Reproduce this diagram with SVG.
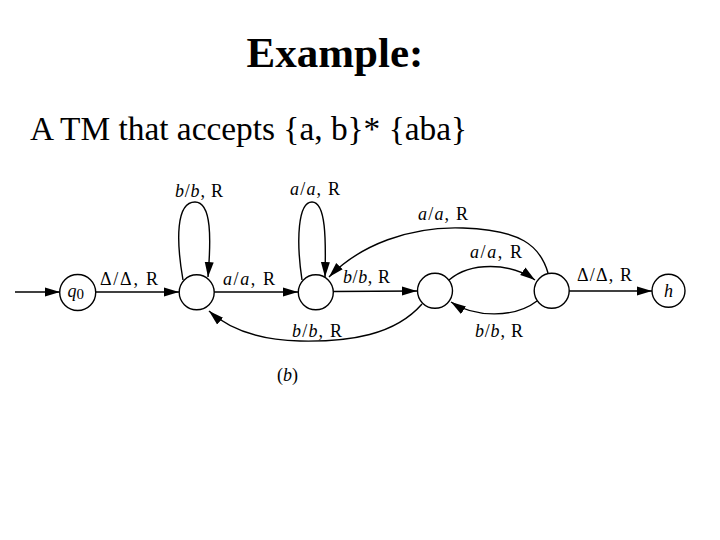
<svg xmlns="http://www.w3.org/2000/svg" width="720" height="540" viewBox="0 0 720 540">
<style>
.st{fill:#fff;stroke:#000;stroke-width:1.4}
.ed{fill:none;stroke:#000;stroke-width:1.4}
.lb{font-family:"Liberation Serif","Times New Roman",serif;font-size:18px;fill:#000}
.i{font-style:italic}
</style>
<defs>
<marker id="ah" markerUnits="userSpaceOnUse" markerWidth="16" markerHeight="10" refX="15" refY="5" orient="auto">
<path d="M0,0.5 L15,5 L0,9.5 Z" fill="#000"/>
</marker>
</defs>
<rect width="720" height="540" fill="#fff"/>
<text x="335" y="67" text-anchor="middle" font-family="Liberation Serif, serif" font-weight="bold" font-size="43">Example:</text>
<text x="30" y="140" font-family="Liberation Serif, serif" font-size="33" textLength="437" lengthAdjust="spacingAndGlyphs">A TM that accepts {a, b}* {aba}</text>

<g id="connectors">
<line class="ed" x1="15" y1="292" x2="60" y2="292" marker-end="url(#ah)"/>
<line class="ed" x1="96" y1="292" x2="179" y2="292" marker-end="url(#ah)"/>
<line class="ed" x1="214" y1="292" x2="298" y2="292" marker-end="url(#ah)"/>
<line class="ed" x1="333" y1="291.5" x2="417" y2="291" marker-end="url(#ah)"/>
<line class="ed" x1="569" y1="291" x2="652" y2="291" marker-end="url(#ah)"/>
<path class="ed" d="M183,280 C176,240 176,202 195,202 C212,202 211,240 208,277" marker-end="url(#ah)"/>
<path class="ed" d="M302,280 C296,240 298,202 312,202 C326,202 326,240 325,277" marker-end="url(#ah)"/>
<path class="ed" d="M548,273 C540,245 520,230 463,228 C410,226 360,245 329,277" marker-end="url(#ah)"/>
<path class="ed" d="M422,304 C395,335 350,342 300,341 C260,340 230,330 209,311" marker-end="url(#ah)"/>
<path class="ed" d="M449,280 C470,262 510,262 535,280" marker-end="url(#ah)"/>
<path class="ed" d="M537,301 C515,318 475,318 451,302" marker-end="url(#ah)"/>
<text class="lb" x="100" y="284.5" textLength="58" lengthAdjust="spacing">Δ/Δ, R</text>
<text class="lb" x="223" y="285" textLength="52" lengthAdjust="spacing"><tspan class="i">a</tspan>/<tspan class="i">a</tspan>, R</text>
<text class="lb" x="175" y="196.5" textLength="48" lengthAdjust="spacing"><tspan class="i">b</tspan>/<tspan class="i">b</tspan>, R</text>
<text class="lb" x="290" y="195" textLength="50" lengthAdjust="spacing"><tspan class="i">a</tspan>/<tspan class="i">a</tspan>, R</text>
<text class="lb" x="292" y="336.5" textLength="50" lengthAdjust="spacing"><tspan class="i">b</tspan>/<tspan class="i">b</tspan>, R</text>
<text class="lb" x="418" y="220" textLength="50" lengthAdjust="spacing"><tspan class="i">a</tspan>/<tspan class="i">a</tspan>, R</text>
<text class="lb" x="343" y="283" textLength="47" lengthAdjust="spacing"><tspan class="i">b</tspan>/<tspan class="i">b</tspan>, R</text>
<text class="lb" x="470" y="258" textLength="52" lengthAdjust="spacing"><tspan class="i">a</tspan>/<tspan class="i">a</tspan>, R</text>
<text class="lb" x="577" y="281" textLength="55" lengthAdjust="spacing">Δ/Δ, R</text>
<text class="lb" x="475" y="336.5" textLength="48" lengthAdjust="spacing"><tspan class="i">b</tspan>/<tspan class="i">b</tspan>, R</text>
</g>

<g id="q0"><circle class="st" cx="77.7" cy="292.5" r="18"/><text class="lb" x="67.5" y="297"><tspan class="i">q</tspan><tspan font-size="15" dy="2">0</tspan></text></g>
<g id="s1"><circle class="st" cx="196.7" cy="292.3" r="17.5"/></g>
<g id="s2"><circle class="st" cx="315.8" cy="292.3" r="17.5"/></g>
<g id="s3"><circle class="st" cx="435" cy="290.8" r="17.5"/></g>
<g id="s4"><circle class="st" cx="551.7" cy="290.8" r="17.5"/></g>
<g id="h"><circle class="st" cx="668.5" cy="290.8" r="16.5"/><text class="lb i" x="668.5" y="297" text-anchor="middle">h</text></g>
<text class="lb" x="277" y="381">(<tspan class="i">b</tspan>)</text>
</svg>
